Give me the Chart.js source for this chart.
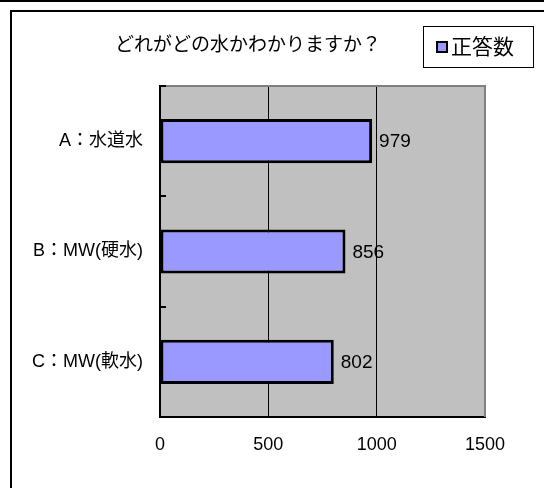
<!DOCTYPE html>
<html>
<head>
<meta charset="utf-8">
<script src="https://cdn.jsdelivr.net/npm/chart.js@4"></script>
<style>
  html, body { margin: 0; padding: 0; background: #fff; }
  #wrap { width: 544px; height: 488px; position: relative; }
</style>
</head>
<body>
<div id="wrap"><canvas id="c"></canvas></div>
<script>
const titleText = 'どれがどの水かわかりますか？';
const seriesName = '正答数';
const categories = ['A：水道水', 'B：MW(硬水)', 'C：MW(軟水)'];
const values = [979, 856, 802];
const xTicks = [0, 500, 1000, 1500];

const FONT = "'Liberation Sans', 'Noto Sans CJK JP', sans-serif";
Chart.defaults.font.family = FONT;
Chart.defaults.color = '#000';

const decor = {
  id: 'decor',
  beforeDraw(chart) {
    const ctx = chart.ctx, a = chart.chartArea;
    ctx.save();
    ctx.fillStyle = '#fff';
    ctx.fillRect(0, 0, chart.width, chart.height);
    // outer frame
    ctx.fillStyle = '#000';
    ctx.fillRect(0, 0, chart.width, 2);
    ctx.fillRect(10, 10, chart.width - 10, 2);
    ctx.fillRect(10, 10, 2, chart.height - 10);
    // plot background
    ctx.fillStyle = '#C0C0C0';
    ctx.fillRect(a.left, a.top, a.right - a.left, a.bottom - a.top);
    ctx.restore();
  },
  afterDatasetsDraw(chart) {
    const ctx = chart.ctx, a = chart.chartArea;
    const ys = chart.scales.y;
    ctx.save();
    // top and right border
    ctx.fillStyle = '#808080';
    ctx.fillRect(a.left, a.top - 1, a.right - a.left + 1, 2);
    ctx.fillRect(a.right - 1, a.top - 1, 2, a.bottom - a.top + 1);
    // inward ticks on category axis
    ctx.fillStyle = '#000';
    const n = categories.length;
    for (let i = 0; i <= n; i++) {
      let y;
      if (i === 0) y = a.top;
      else if (i === n) y = a.bottom;
      else y = (ys.getPixelForValue(i - 1) + ys.getPixelForValue(i)) / 2;
      ctx.fillRect(a.left, Math.round(y) - 1, 6, 2);
    }
    // data labels
    const meta = chart.getDatasetMeta(0);
    ctx.font = '19px ' + FONT;
    ctx.textAlign = 'left';
    ctx.textBaseline = 'middle';
    meta.data.forEach((bar, i) => {
      ctx.fillText(String(values[i]), bar.x + 7, bar.y + 1);
    });
    // title
    ctx.font = '19px ' + FONT;
    ctx.textAlign = 'center';
    ctx.fillText(titleText, 248, 46);
    // legend
    ctx.strokeStyle = '#000';
    ctx.lineWidth = 1;
    ctx.strokeRect(423.5, 26.5, 110, 41);
    ctx.fillStyle = '#000';
    ctx.fillRect(436, 41, 12, 12);
    ctx.fillStyle = '#9999FF';
    ctx.fillRect(438, 43, 8, 8);
    ctx.fillStyle = '#000';
    ctx.font = '21px ' + FONT;
    ctx.textAlign = 'left';
    ctx.fillText(chart.data.datasets[0].label, 451, 48);
    ctx.restore();
  }
};

new Chart(document.getElementById('c'), {
  type: 'bar',
  data: {
    labels: categories,
    datasets: [{
      label: seriesName,
      data: values,
      backgroundColor: '#9999FF',
      borderColor: '#000',
      borderWidth: 3,
      borderSkipped: false,
      barPercentage: 0.4,
      categoryPercentage: 1
    }]
  },
  options: {
    indexAxis: 'y',
    responsive: true,
    maintainAspectRatio: false,
    animation: false,
    devicePixelRatio: 1,
    layout: { padding: { left: 0, top: 86, right: 59, bottom: 0 } },
    plugins: {
      legend: { display: false },
      title: { display: false },
      tooltip: { enabled: false }
    },
    scales: {
      x: {
        min: 0, max: 1500,
        afterBuildTicks(scale) { scale.ticks = xTicks.map(v => ({ value: v })); },
        afterFit(scale) { scale.height = 71; },
        grid: {
          drawTicks: false,
          color: ctx => (ctx.tick && (ctx.tick.value === 0 || ctx.tick.value === 1500)) ? 'rgba(0,0,0,0)' : '#000',
          lineWidth: 1
        },
        border: { display: true, color: '#000', width: 2 },
        ticks: {
          font: { size: 18 }, padding: 17, color: '#000', maxRotation: 0,
          callback: v => String(v)
        }
      },
      y: {
        afterFit(scale) { scale.width = 160; },
        grid: { display: false, drawTicks: false },
        border: { display: true, color: '#000', width: 2 },
        ticks: { font: { size: 18 }, padding: 17, color: '#000' }
      }
    }
  },
  plugins: [decor]
});
</script>
</body>
</html>
